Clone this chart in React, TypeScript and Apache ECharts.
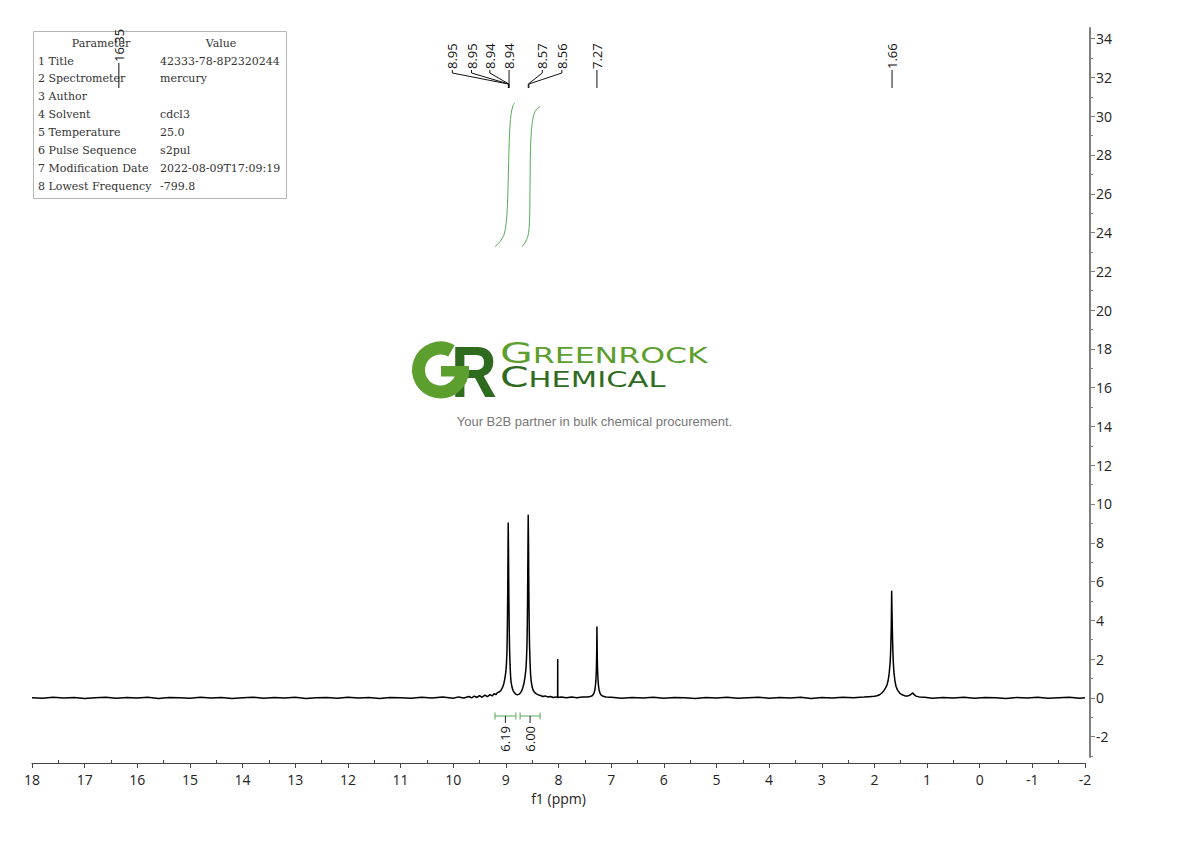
import React, { useEffect, useRef } from "react";
import * as echarts from "echarts";

// ---------------- data ----------------
const spectrum: [number, number][] = [
  [18.0, 0.01], [17.8, -0.02], [17.6, 0.03], [17.4, -0.01], [17.2, 0.02], [17.0, -0.03], [16.8, 0.01],
  [16.6, 0.03], [16.4, -0.02], [16.2, 0.02], [16.0, -0.01], [15.8, 0.03], [15.6, -0.03], [15.4, 0.02],
  [15.2, 0.0], [15.0, -0.02], [14.8, 0.03], [14.6, -0.01], [14.4, 0.02], [14.2, -0.03], [14.0, 0.01],
  [13.8, 0.03], [13.6, -0.02], [13.4, 0.02], [13.2, -0.01], [13.0, 0.03], [12.8, -0.03], [12.6, 0.01],
  [12.4, 0.02], [12.2, -0.02], [12.0, 0.03], [11.8, -0.01], [11.6, 0.02], [11.4, -0.03], [11.2, 0.02],
  [11.0, 0.0], [10.8, -0.02], [10.6, 0.03], [10.4, -0.01], [10.2, 0.04], [10.0, -0.02], [9.9, 0.05],
  [9.8, -0.01], [9.7, 0.07], [9.65, 0.0], [9.6, 0.09], [9.55, 0.02], [9.5, 0.12], [9.45, 0.03],
  [9.4, 0.14], [9.35, 0.06], [9.3, 0.17], [9.26, 0.1], [9.22, 0.22], [9.19, 0.16], [9.16, 0.27],
  [9.13, 0.3], [9.1, 0.36], [9.08, 0.45], [9.06, 0.56], [9.04, 0.72], [9.02, 0.98], [9.0, 1.35],
  [8.99, 1.7], [8.98, 2.3], [8.975, 3.0], [8.97, 3.9], [8.965, 5.3], [8.96, 7.1], [8.955, 9.05],
  [8.95, 7.7], [8.945, 5.9], [8.94, 4.5], [8.935, 3.4], [8.93, 2.6], [8.92, 1.7], [8.91, 1.12],
  [8.9, 0.8], [8.88, 0.52], [8.86, 0.36], [8.84, 0.28], [8.82, 0.21], [8.8, 0.18], [8.78, 0.16],
  [8.76, 0.18], [8.74, 0.21], [8.72, 0.27], [8.7, 0.36], [8.68, 0.5], [8.66, 0.7], [8.64, 1.0],
  [8.62, 1.45], [8.61, 1.9], [8.6, 2.6], [8.595, 3.3], [8.59, 4.4], [8.585, 6.0], [8.58, 7.8],
  [8.575, 9.45], [8.57, 8.1], [8.565, 6.2], [8.56, 4.6], [8.555, 3.5], [8.55, 2.7], [8.54, 1.8],
  [8.53, 1.2], [8.52, 0.88], [8.5, 0.56], [8.48, 0.38], [8.45, 0.27], [8.42, 0.21], [8.38, 0.15],
  [8.34, 0.12], [8.3, 0.07], [8.25, 0.1], [8.2, 0.04], [8.15, 0.07], [8.1, 0.02], [8.05, 0.05],
  [8.017, 0.02], [8.015, 2.0], [8.013, 0.02], [7.95, 0.04], [7.85, 0.0], [7.75, 0.04], [7.65, 0.01],
  [7.55, 0.05], [7.45, 0.04], [7.4, 0.07], [7.36, 0.11], [7.33, 0.21], [7.31, 0.4], [7.3, 0.6],
  [7.29, 0.9], [7.28, 1.5], [7.275, 2.3], [7.27, 3.68], [7.265, 2.4], [7.26, 1.6], [7.25, 0.97],
  [7.24, 0.62], [7.23, 0.42], [7.21, 0.23], [7.19, 0.14], [7.15, 0.08], [7.1, 0.04], [7.0, 0.03],
  [6.8, -0.02], [6.6, 0.02], [6.4, -0.01], [6.2, 0.03], [6.0, -0.02], [5.8, 0.02], [5.6, 0.0],
  [5.4, -0.03], [5.2, 0.02], [5.0, -0.01], [4.8, 0.03], [4.6, -0.02], [4.4, 0.01], [4.2, 0.03],
  [4.0, -0.02], [3.8, 0.02], [3.6, -0.01], [3.4, 0.03], [3.2, -0.03], [3.0, 0.02], [2.8, -0.01],
  [2.6, 0.03], [2.4, 0.01], [2.2, 0.04], [2.1, 0.06], [2.0, 0.08], [1.95, 0.11], [1.9, 0.16],
  [1.86, 0.25], [1.82, 0.37], [1.79, 0.5], [1.76, 0.67], [1.74, 0.88], [1.72, 1.25], [1.7, 1.85],
  [1.69, 2.5], [1.68, 3.6], [1.672, 5.52], [1.665, 4.4], [1.655, 3.0], [1.645, 2.05], [1.63, 1.35],
  [1.61, 0.88], [1.59, 0.6], [1.56, 0.4], [1.52, 0.25], [1.47, 0.16], [1.42, 0.1], [1.36, 0.1],
  [1.32, 0.15], [1.29, 0.22], [1.27, 0.25], [1.25, 0.18], [1.21, 0.09], [1.15, 0.05], [1.05, 0.03],
  [0.9, -0.02], [0.7, 0.02], [0.5, -0.01], [0.3, 0.03], [0.1, -0.02], [-0.1, 0.02], [-0.3, 0.0],
  [-0.5, -0.03], [-0.7, 0.02], [-0.9, -0.01], [-1.1, 0.03], [-1.3, -0.02], [-1.5, 0.01], [-1.7, 0.03],
  [-1.9, -0.02], [-2.0, 0.0],
];

const integralCurveA: [number, number][] = [
  [9.206, 23.27], [9.111, 23.53], [9.035, 23.89], [8.997, 24.41], [8.969, 25.44], [8.95, 27.24],
  [8.931, 29.05], [8.902, 30.08], [8.864, 30.55], [8.826, 30.7],
];
const integralCurveB: [number, number][] = [
  [8.693, 23.27], [8.636, 23.48], [8.579, 23.84], [8.551, 24.56], [8.541, 26.21], [8.532, 28.28],
  [8.503, 29.57], [8.446, 30.24], [8.351, 30.5],
];
const integralRanges: [number, number][] = [[9.206, 8.81], [8.73, 8.35]];
const integralLabels = ["6.19", "6.00"];

const peakShifts = [16.35, 8.953, 8.949, 8.943, 8.939, 8.574, 8.563, 7.27, 1.665];
const peakLabels = ["16.35", "8.95", "8.95", "8.94", "8.94", "8.57", "8.56", "7.27", "1.66"];

const yMajorTicks = [-2, 0, 2, 4, 6, 8, 10, 12, 14, 16, 18, 20, 22, 24, 26, 28, 30, 32, 34];
const yMinorTicks = [-3, -1, 1, 3, 5, 7, 9, 11, 13, 15, 17, 19, 21, 23, 25, 27, 29, 31, 33];

const paramNames = [
  "1 Title", "2 Spectrometer", "3 Author", "4 Solvent", "5 Temperature", "6 Pulse Sequence",
  "7 Modification Date", "8 Lowest Frequency",
];
const paramValues = ["42333-78-8P2320244", "mercury", "", "cdcl3", "25.0", "s2pul", "2022-08-09T17:09:19", "-799.8"];

// ---------------- layout / style ----------------
const W = 1190;
const H = 841;
const AXIS_FONT = "'Open Sans', 'Noto Sans', sans-serif";
const TABLE_FONT = "'DejaVu Serif', 'Liberation Serif', serif";
const GREEN_INT = "#56ab56";
// label x offsets (px) relative to peak position, for spreading crowded labels
const labelOffsets = [0, -56, -37, -19, 0, 14, 33, 0, 0];
const labelBottoms = [62, 69, 69, 69, 69, 69, 69, 69, 69];

export default function App() {
  const ref = useRef<HTMLDivElement>(null);

  useEffect(() => {
    if (!ref.current) return;
    const chart = echarts.init(ref.current, null, { renderer: "svg" });

    const minorX: number[] = [];
    for (let v = -1.5; v < 18; v += 1) minorX.push(v);

    const yMin = -3.05;
    const yMax = 34.55;

    chart.setOption({
      animation: false,
      backgroundColor: "#ffffff",
      grid: { left: 32, right: 105, top: 28, bottom: 84, containLabel: false },
      xAxis: [
        {
          type: "value",
          min: -2,
          max: 18,
          interval: 1,
          inverse: true,
          position: "bottom",
          offset: 6,
          name: "f1 (ppm)",
          nameLocation: "middle",
          nameGap: 28,
          nameTextStyle: { fontSize: 14, color: "#222", fontFamily: AXIS_FONT },
          axisLine: { show: true, onZero: false, lineStyle: { color: "#444", width: 1 } },
          axisTick: { show: true, length: 5, lineStyle: { color: "#444" } },
          axisLabel: { fontSize: 14, color: "#222", fontFamily: AXIS_FONT, margin: 9 },
          splitLine: { show: false },
        },
        {
          type: "value",
          min: -2,
          max: 18,
          inverse: true,
          position: "bottom",
          offset: 6,
          axisLine: { show: false, onZero: false },
          axisTick: { show: true, inside: true, length: 3, customValues: minorX, lineStyle: { color: "#444" } },
          axisLabel: { show: false },
          splitLine: { show: false },
        },
      ],
      yAxis: [
        {
          type: "value",
          min: yMin,
          max: yMax,
          position: "right",
          offset: 5,
          axisLine: { show: true, onZero: false, lineStyle: { color: "#808080", width: 2 } },
          axisTick: { show: true, length: 5, customValues: yMajorTicks, lineStyle: { color: "#808080" } },
          axisLabel: { show: true, customValues: yMajorTicks, fontSize: 14, color: "#222", fontFamily: AXIS_FONT, margin: 6 },
          splitLine: { show: false },
        },
        {
          type: "value",
          min: yMin,
          max: yMax,
          position: "right",
          offset: 5,
          axisLine: { show: false, onZero: false },
          axisTick: { show: true, length: 3, customValues: yMinorTicks, lineStyle: { color: "#808080" } },
          axisLabel: { show: false },
          splitLine: { show: false },
        },
      ],
      series: [
        {
          type: "line",
          data: spectrum,
          xAxisIndex: 0,
          yAxisIndex: 0,
          symbol: "none",
          lineStyle: { color: "#000", width: 1.5 },
          silent: true,
        },
        {
          type: "line",
          data: integralCurveA,
          xAxisIndex: 0,
          yAxisIndex: 0,
          symbol: "none",
          smooth: 0.3,
          lineStyle: { color: GREEN_INT, width: 1 },
          silent: true,
        },
        {
          type: "line",
          data: integralCurveB,
          xAxisIndex: 0,
          yAxisIndex: 0,
          symbol: "none",
          smooth: 0.3,
          lineStyle: { color: GREEN_INT, width: 1 },
          silent: true,
        },
      ],
    });

    const px = (ppm: number, v: number) => chart.convertToPixel({ seriesIndex: 0 }, [ppm, v]) as number[];

    const g: any[] = [];

    // parameter table
    const tx = 33.5, ty = 31.5, tw = 253, th = 167;
    g.push({ type: "rect", shape: { x: tx, y: ty, width: tw, height: th }, style: { fill: "#fff", stroke: "#b5b5b5", lineWidth: 1 }, z: 10 });
    const rowH = 17.86;
    const tStyle = { fontSize: 11, fontFamily: TABLE_FONT, fill: "#333", verticalAlign: "middle" };
    g.push({ type: "text", x: 101, y: 43, style: { ...tStyle, text: "Parameter", align: "center" }, z: 11 });
    g.push({ type: "text", x: 221, y: 43, style: { ...tStyle, text: "Value", align: "center" }, z: 11 });
    paramNames.forEach((n, i) => {
      const y = 61 + i * rowH;
      g.push({ type: "text", x: 38, y, style: { ...tStyle, text: n, align: "left" }, z: 11 });
      if (paramValues[i]) {
        g.push({ type: "text", x: 160, y, style: { ...tStyle, text: paramValues[i], align: "left" }, z: 11 });
      }
    });

    // peak labels
    peakShifts.forEach((s, i) => {
      const peakX = px(s, 0)[0];
      const lx = peakX + labelOffsets[i];
      const bottom = labelBottoms[i];
      g.push({
        type: "text",
        x: lx,
        y: bottom,
        rotation: Math.PI / 2,
        style: { text: peakLabels[i], fontSize: 13, fontFamily: AXIS_FONT, fill: "#111", align: "left", verticalAlign: "middle" },
        z: 20,
      });
      if (Math.abs(lx - peakX) < 0.5) {
        g.push({ type: "line", shape: { x1: peakX, y1: bottom + 1, x2: peakX, y2: 88 }, style: { stroke: "#111", lineWidth: 1 }, z: 20 });
      } else {
        g.push({
          type: "polyline",
          shape: { points: [[lx, bottom + 1], [lx, 73], [peakX, 84], [peakX, 88]] },
          style: { stroke: "#111", lineWidth: 1, fill: "none" },
          z: 20,
        });
      }
    });

    // integration brackets
    integralRanges.forEach((r, i) => {
      const x1 = px(r[0], 0)[0];
      const x2 = px(r[1], 0)[0];
      const xm = (x1 + x2) / 2;
      const yb = 716;
      const st = { stroke: GREEN_INT, lineWidth: 1 };
      g.push({ type: "line", shape: { x1, y1: yb, x2, y2: yb }, style: st, z: 20 });
      g.push({ type: "line", shape: { x1, y1: yb - 3.5, x2: x1, y2: yb + 3.5 }, style: st, z: 20 });
      g.push({ type: "line", shape: { x1: x2, y1: yb - 3.5, x2, y2: yb + 3.5 }, style: st, z: 20 });
      g.push({ type: "line", shape: { x1: xm, y1: yb, x2: xm, y2: yb + 7 }, style: { stroke: "#222", lineWidth: 1 }, z: 20 });
      g.push({
        type: "text",
        x: xm,
        y: 726,
        rotation: Math.PI / 2,
        style: { text: integralLabels[i], fontSize: 13, fontFamily: AXIS_FONT, fill: "#111", align: "right", verticalAlign: "middle" },
        z: 20,
      });
    });

    // logo watermark
    const logoLight = "#5d9f2f";
    const logoDark = "#2f6b1f";
    g.push({
      type: "text",
      x: 451,
      y: 372,
      scaleX: 0.88,
      style: { text: "R", fontSize: 72, fontWeight: "bold", fontFamily: "'Liberation Sans', Arial, sans-serif", fill: logoDark, align: "left", verticalAlign: "middle" },
      z: 5,
    });
    g.push({
      type: "arc",
      shape: { cx: 440.5, cy: 370, r: 22, startAngle: 0, endAngle: Math.PI * 2 - 1.05, clockwise: true },
      style: { stroke: logoLight, lineWidth: 13, fill: "none" },
      z: 6,
    });
    g.push({ type: "rect", shape: { x: 441, y: 366, width: 28, height: 10.5 }, style: { fill: logoLight }, z: 6 });

    const LOGO_FONT = "'DejaVu Sans', sans-serif";
    g.push({
      type: "group",
      x: 500,
      y: 0,
      scaleX: 1.54,
      z: 6,
      children: [
        { type: "text", x: 0, y: 353, style: { text: "G", fontSize: 27.5, fontFamily: LOGO_FONT, fill: logoLight, align: "left", verticalAlign: "middle" } },
        { type: "text", x: 21.3, y: 355.5, style: { text: "REENROCK", fontSize: 20.5, fontFamily: LOGO_FONT, fill: logoLight, align: "left", verticalAlign: "middle" } },
      ],
    });
    g.push({
      type: "group",
      x: 500,
      y: 0,
      scaleX: 1.49,
      z: 6,
      children: [
        { type: "text", x: 0, y: 377.5, style: { text: "C", fontSize: 27.5, fontFamily: LOGO_FONT, fill: logoDark, align: "left", verticalAlign: "middle" } },
        { type: "text", x: 19.2, y: 379.5, style: { text: "HEMICAL", fontSize: 20.5, fontFamily: LOGO_FONT, fill: logoDark, align: "left", verticalAlign: "middle" } },
      ],
    });
    g.push({
      type: "text",
      x: 594.5,
      y: 421,
      style: { text: "Your B2B partner in bulk chemical procurement.", fontSize: 13, fontFamily: "'Liberation Sans', Arial, sans-serif", fill: "#777", align: "center", verticalAlign: "middle" },
      z: 6,
    });

    chart.setOption({ graphic: g });

    return () => {
      chart.dispose();
    };
  }, []);

  return (
    <div
      ref={ref}
      style={{ position: "fixed", left: 0, top: 0, width: W, height: H, background: "#fff" }}
    />
  );
}
